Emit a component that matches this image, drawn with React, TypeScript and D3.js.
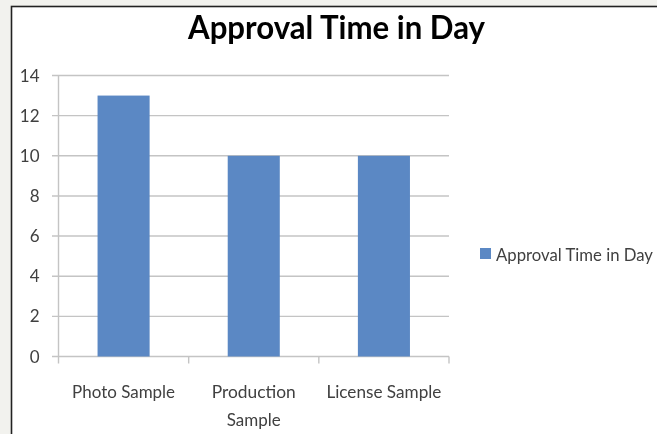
import React from "react";
import * as d3 from "d3";

const categories: string[][] = [["Photo Sample"], ["Production", "Sample"], ["License Sample"]];
const categoryKeys = ["Photo Sample", "Production Sample", "License Sample"];
const values = [13, 10, 10];
const yTicks = [0, 2, 4, 6, 8, 10, 12, 14];
const seriesName = "Approval Time in Day";
const chartTitle = "Approval Time in Day";

const W = 657;
const H = 434;
const plot = { left: 58.5, right: 449, top: 75.5, bottom: 356.5 };
const FONT = "Lato, 'Open Sans', sans-serif";
const BAR = "#5b88c4";
const GRID = "#c4c4c4";

export default function App() {
  const x = d3
    .scaleBand<string>()
    .domain(categoryKeys)
    .range([plot.left, plot.right])
    .paddingInner(0.6)
    .paddingOuter(0.3);
  const y = d3.scaleLinear().domain([0, 14]).range([plot.bottom, plot.top]);
  const step = x.step();
  const labelWidths = [103, 84, 115];

  return (
    <div style={{ position: "fixed", left: 0, top: 0, width: W, height: H }}>
      <svg width={W} height={H} style={{ display: "block" }}>
        <rect x={0} y={0} width={W} height={H} fill="#f2f2ee" />
        <rect x={11.5} y={6.5} width={W + 10} height={H + 10} fill="#ffffff" stroke="#222" strokeWidth={1.6} />

        <text
          x={336.5}
          y={38.5}
          textAnchor="middle"
          fontFamily={FONT}
          fontWeight="bold"
          fontSize={33}
          fill="#000"
          textLength={297}
          lengthAdjust="spacingAndGlyphs"
        >
          {chartTitle}
        </text>

        {/* horizontal gridlines with left tick marks */}
        {yTicks.map((t) => (
          <g key={t}>
            <line x1={52} x2={plot.right} y1={y(t)} y2={y(t)} stroke={GRID} strokeWidth={1.4} />
            <text
              x={39.5}
              y={y(t)}
              dy="0.36em"
              textAnchor="end"
              fontFamily={FONT}
              fontSize={17}
              fill="#404040"
            >
              {t}
            </text>
          </g>
        ))}

        {/* vertical axis */}
        <line x1={plot.left} x2={plot.left} y1={plot.top} y2={plot.bottom + 7} stroke={GRID} strokeWidth={1.4} />

        {/* category separators */}
        {categoryKeys.map((c, i) => {
          const xe = plot.left + step * (i + 1);
          return <line key={c} x1={xe} x2={xe} y1={plot.bottom} y2={plot.bottom + 7} stroke={GRID} strokeWidth={1.4} />;
        })}

        {/* bars */}
        {values.map((v, i) => (
          <rect
            key={categoryKeys[i]}
            x={x(categoryKeys[i])!}
            y={y(v)}
            width={x.bandwidth()}
            height={y(0) - y(v)}
            fill={BAR}
          />
        ))}

        {/* category labels */}
        {categories.map((lines, i) => {
          const cx = x(categoryKeys[i])! + x.bandwidth() / 2;
          return lines.map((ln, j) => (
            <text
              key={`${i}-${j}`}
              x={cx}
              y={398 + j * 28}
              textAnchor="middle"
              fontFamily={FONT}
              fontSize={18}
              fill="#404040"
              textLength={j === 0 ? labelWidths[i] : 54}
              lengthAdjust="spacingAndGlyphs"
            >
              {ln}
            </text>
          ));
        })}

        {/* legend */}
        <rect x={480} y={248} width={11} height={11} fill={BAR} />
        <text
          x={496}
          y={260.5}
          fontFamily={FONT}
          fontSize={17}
          fill="#404040"
          textLength={157}
          lengthAdjust="spacingAndGlyphs"
        >
          {seriesName}
        </text>
      </svg>
    </div>
  );
}
